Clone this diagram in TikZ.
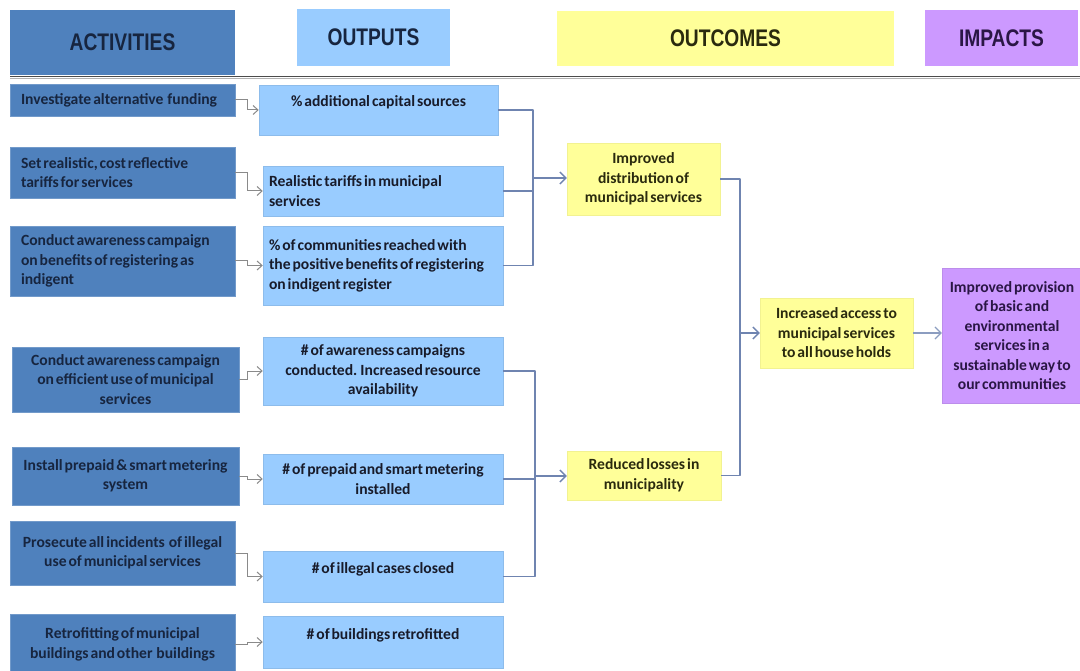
\documentclass[tikz,border=0pt]{standalone}
\usepackage{fontspec}
\setmainfont{Carlito}[WordSpace=0.55]
\newfontfamily\headfont{Liberation Sans}[FakeStretch=0.8]
\usetikzlibrary{arrows.meta}

\definecolor{actfill}{HTML}{4F81BD}
\definecolor{acttext}{HTML}{17253F}
\definecolor{outfill}{HTML}{99CCFF}
\definecolor{outtext}{HTML}{181B2A}
\definecolor{ocfill}{HTML}{FFFF99}
\definecolor{octext}{HTML}{2A2A0E}
\definecolor{impfill}{HTML}{CC99FF}
\definecolor{imptext}{HTML}{2A1645}
\definecolor{linkblue}{HTML}{6F84B0}
\definecolor{linkgray}{HTML}{8A8A8A}

\tikzset{
  box/.style={rectangle, inner sep=0pt, font=\fontsize{15.6}{19.5}\selectfont\bfseries},
  head/.style={rectangle, inner sep=0pt, font=\headfont\fontsize{24}{28}\selectfont\bfseries},
  actbox/.style={box, fill=actfill, draw=actfill!80!white, line width=0.6pt, text=acttext},
  outbox/.style={box, fill=outfill, draw=outfill!92!black, line width=0.5pt, text=outtext},
  ocbox/.style={box, fill=ocfill, draw=ocfill!95!black, line width=0.4pt, text=octext},
  impbox/.style={box, fill=impfill, draw=impfill!92!black, line width=0.4pt, text=imptext},
  lefttext/.style={align=flush left, text width=#1},
  raised/.style={text height=12pt, text depth=18pt},
  feed/.style={draw=linkgray, line width=1pt, -{Straight Barb[length=5pt,width=9pt]}},
  bracket/.style={draw=linkblue, line width=1.3pt, line join=round},
  lead/.style={draw=linkblue, line width=1.3pt, -{Straight Barb[length=6pt,width=12pt]}},
}

\begin{document}
\begin{tikzpicture}[x=1pt, y=-1pt]
\useasboundingbox (0,0) rectangle (1080,671);

% column headings
\node[head, fill=actfill, text=acttext, minimum width=225, minimum height=65] (hact) at (122.5,42.5) {ACTIVITIES};
\node[head, fill=outfill, text=acttext, minimum width=153, minimum height=57] (hout) at (373.5,37.5) {OUTPUTS};
\node[head, fill=ocfill, text=octext, minimum width=337, minimum height=55] (hoc) at (725.5,38.5) {OUTCOMES};
\node[head, fill=impfill, text=imptext, minimum width=153, minimum height=56] (himp) at (1001.5,38) {IMPACTS};

% rule under the headings
\coordinate (rl) at (10,76.5);
\coordinate (rr) at (1080,76.5);
\draw[draw=black!70, line width=1.6pt] (rl) -- (rr);
\draw[draw=black!30, line width=1pt] ([yshift=-2pt]rl) -- ([yshift=-2pt]rr);

% activities
\node[actbox, minimum width=225, minimum height=32, lefttext=203pt] (a1) at (122.5,100) {Investigate alternative~ funding};
\node[actbox, minimum width=225, minimum height=51, lefttext=203pt] (a2) at (122.5,172.5) {Set realistic, cost reflective\\tariffs for services};
\node[actbox, minimum width=225, minimum height=70, lefttext=203pt] (a3) at (122.5,261) {Conduct awareness campaign\\on benefits of registering as\\indigent};
\node[actbox, minimum width=227, minimum height=65, align=center] (a4) at (125.5,379.5) {Conduct awareness campaign\\on efficient use of municipal\\services};
\node[actbox, minimum width=227, minimum height=58, align=center] (a5) at (125.5,476) {Install prepaid \& smart metering\\system};
\node[actbox, minimum width=225, minimum height=64, align=center] (a6) at (122.5,553) {Prosecute all incidents~ of illegal\\use of municipal services};
\node[actbox, minimum width=225, minimum height=61, align=center] (a7) at (122.5,644.5) {Retrofitting of municipal\\buildings and other~ buildings};

% outputs
\node[outbox, minimum width=239, minimum height=50, align=center, raised] (o1) at (378.5,110) {\% additional capital sources};
\node[outbox, minimum width=240, minimum height=50, lefttext=228pt] (o2) at (383,191) {Realistic tariffs in municipal\\services};
\node[outbox, minimum width=240, minimum height=79, lefttext=228pt] (o3) at (383,265.5) {\% of communities reached with\\the positive benefits of registering\\on indigent register};
\node[outbox, minimum width=240, minimum height=68, align=center] (o4) at (383,371) {\# of awareness campaigns\\conducted. Increased resource\\availability};
\node[outbox, minimum width=240, minimum height=50, align=center] (o5) at (383,479) {\# of prepaid and smart metering\\installed};
\node[outbox, minimum width=240, minimum height=51, align=center, raised] (o6) at (383,576.5) {\# of illegal cases closed};
\node[outbox, minimum width=240, minimum height=52, align=center, raised] (o7) at (383,642) {\# of buildings retrofitted};

% outcomes
\node[ocbox, minimum width=153, minimum height=72, align=center] (oc1) at (643.5,179) {Improved\\distribution of\\municipal services};
\node[ocbox, minimum width=154, minimum height=49, align=center] (oc2) at (644,475.5) {Reduced losses in\\municipality};
\node[ocbox, minimum width=153, minimum height=70, align=center] (oc3) at (836.5,333) {Increased access to\\municipal services\\to all house holds};

% impact
\node[impbox, minimum width=140, minimum height=135, align=center] (imp) at (1012,335.5) {Improved provision\\of basic and\\environmental\\services in a\\sustainable way to\\our communities};

% activity -> output links
\draw[feed] (a1.east) -- ++(12,0) |- (o1.west);
\draw[feed] (a2.east) -- ++(12,0) |- (o2.west);
\draw[feed] (a3.east) -- ++(12,0) |- (o3.west);
\draw[feed] (a4.east) -- ++(8,0) |- (o4.west);
\draw[feed] (a5.east) -- ++(8,0) |- (o5.west);
\draw[feed] (a6.east) -- ++(12,0) |- (o6.west);
\draw[feed] (a7.east) -- ++(12,0) |- (o7.west);

% outputs -> outcomes
\coordinate (b1) at (533,178);
\draw[bracket] (o1.east) -| (b1);
\draw[bracket] (o2.east) -| (b1);
\draw[bracket] (o3.east) -| (b1);
\draw[lead] (b1) -- (oc1.west |- b1);

\coordinate (b2) at (535,476);
\draw[bracket] (o4.east) -| (b2);
\draw[bracket] (o5.east) -| (b2);
\draw[bracket] (o6.east) -| (b2);
\draw[lead] (b2) -- (oc2.west |- b2);

% outcomes -> combined outcome -> impact
\coordinate (b3) at (740,333);
\draw[bracket] (oc1.east) -| (b3);
\draw[bracket] (oc2.east) -| (b3);
\draw[lead] (b3) -- (oc3.west);
\draw[lead, draw=linkblue!80!white, line width=1.2pt] (oc3.east) -- (oc3.east -| imp.west);
\end{tikzpicture}
\end{document}
